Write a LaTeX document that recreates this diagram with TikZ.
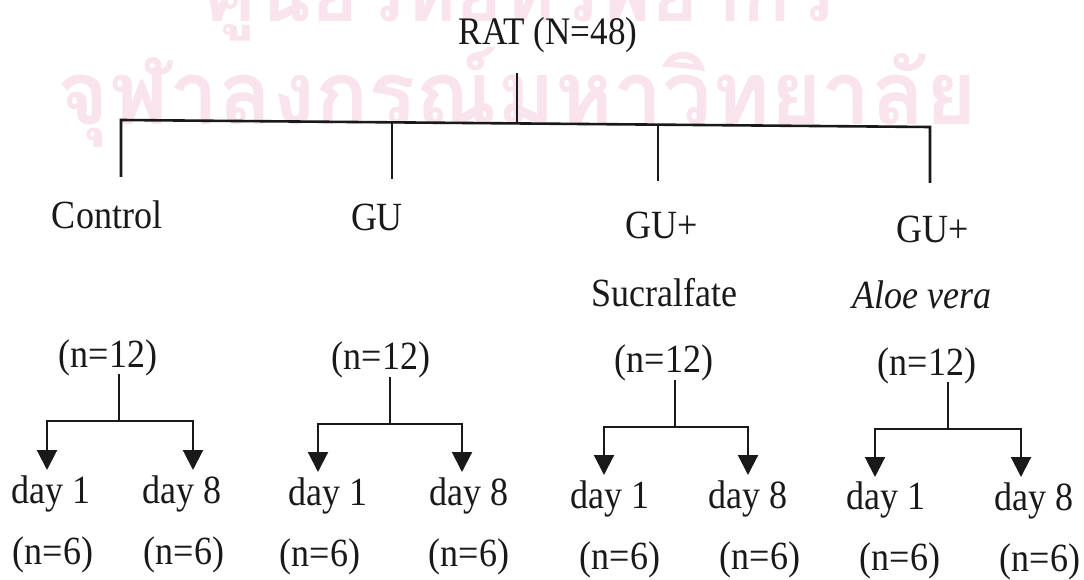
\documentclass[tikz,border=0pt]{standalone}
\usepackage{fontspec}
\setmainfont{Liberation Serif}
\newfontfamily\condfont[FakeStretch=0.9]{Liberation Serif}
\newfontfamily\thaifont[Script=Thai]{Loma}
\usetikzlibrary{arrows.meta}
\definecolor{ink}{RGB}{25,25,25}
\definecolor{wm}{RGB}{249,227,237}
\tikzset{
  lbl/.style={anchor=base, inner sep=0pt, font=\condfont\fontsize{40}{44}\selectfont, text=ink},
  ratlbl/.style={lbl, font=\condfont\fontsize{39}{42}\selectfont},
  trunk/.style={draw=ink, line width=2.6pt, line join=miter},
  branch/.style={draw=ink, line width=2.1pt, line join=miter},
  arr/.style={branch, -{Triangle[width=20pt,length=20pt]}},
  wmark/.style={anchor=base, inner sep=0pt, text=wm, font=\thaifont\bfseries\fontsize{80}{90}\selectfont},
}
\begin{document}
\begin{tikzpicture}[x=1pt,y=-1pt]
\useasboundingbox (0,0) rectangle (1084,580);
\fill[white] (0,0) rectangle (1084,580);
% watermark
\node[wmark] (wm1) at (520,22) {ศูนย์วิทยทรัพยากร};
\node[wmark, font=\thaifont\bfseries\fontsize{88}{96}\selectfont] (wm2) at (517,125) {จุฬาลงกรณ์มหาวิทยาลัย};
% root
\node[ratlbl] (rat) at (548,45) {RAT (N=48)};
\coordinate (rs) at (517,73);
\coordinate (rj) at (517,123.5);
\coordinate (t1) at (121,120);
\coordinate (t2) at (392,122.3);
\coordinate (t3) at (658,124.6);
\coordinate (t4) at (930,127);
\coordinate (d1) at (121,177);
\coordinate (d2) at (392,179);
\coordinate (d3) at (658,181);
\coordinate (d4) at (930,183);
\draw[trunk] (rs) -- (rj);
\draw[trunk] (d1) -- (t1) -- (t4) -- (d4);
\draw[trunk] (t2) -- (d2);
\draw[trunk] (t3) -- (d3);
% group labels
\node[lbl] (ctl) at (107,229) {Control};
\node[lbl] (gu) at (377,230) {GU};
\node[lbl] (gus) at (662,238) {GU+};
\node[lbl] (gua) at (933,243) {GU+};
\node[lbl] (suc) at (664,306) {Sucralfate};
\node[lbl] (aloe) at (922,308) {\itshape Aloe vera};
\node[lbl] (n1) at (108,367) {(n=12)};
\node[lbl] (n2) at (381,369) {(n=12)};
\node[lbl] (n3) at (664,372) {(n=12)};
\node[lbl] (n4) at (927,375) {(n=12)};
% branches
\coordinate (s1) at (119,374); \coordinate (m1) at (119,421);
\coordinate (p1a) at (47,470); \coordinate (p1b) at (193,470);
\coordinate (s2) at (390,377); \coordinate (m2) at (390,424);
\coordinate (p2a) at (318,472); \coordinate (p2b) at (462,472);
\coordinate (s3) at (675,380); \coordinate (m3) at (675,427);
\coordinate (p3a) at (604,475); \coordinate (p3b) at (748,475);
\coordinate (s4) at (948,382); \coordinate (m4) at (948,429);
\coordinate (p4a) at (875,477); \coordinate (p4b) at (1021,477);
\foreach \g in {1,2,3,4}{
  \draw[branch] (s\g) -- (m\g);
  \draw[arr] (m\g) -| (p\g a);
  \draw[arr] (m\g) -| (p\g b);
}
% day labels
\node[lbl] (da1) at (51,503) {day 1};
\node[lbl] (db1) at (182,503) {day 8};
\node[lbl] (da2) at (328,505) {day 1};
\node[lbl] (db2) at (469,505) {day 8};
\node[lbl] (da3) at (610,508) {day 1};
\node[lbl] (db3) at (748,508) {day 8};
\node[lbl] (da4) at (886,509) {day 1};
\node[lbl] (db4) at (1034,510) {day 8};
\node[lbl] (ka1) at (53,564) {(n=6)};
\node[lbl] (kb1) at (184,564) {(n=6)};
\node[lbl] (ka2) at (320,566) {(n=6)};
\node[lbl] (kb2) at (469,566) {(n=6)};
\node[lbl] (ka3) at (620,569) {(n=6)};
\node[lbl] (kb3) at (760,569) {(n=6)};
\node[lbl] (ka4) at (900,570) {(n=6)};
\node[lbl] (kb4) at (1040,571) {(n=6)};
\end{tikzpicture}
\end{document}
